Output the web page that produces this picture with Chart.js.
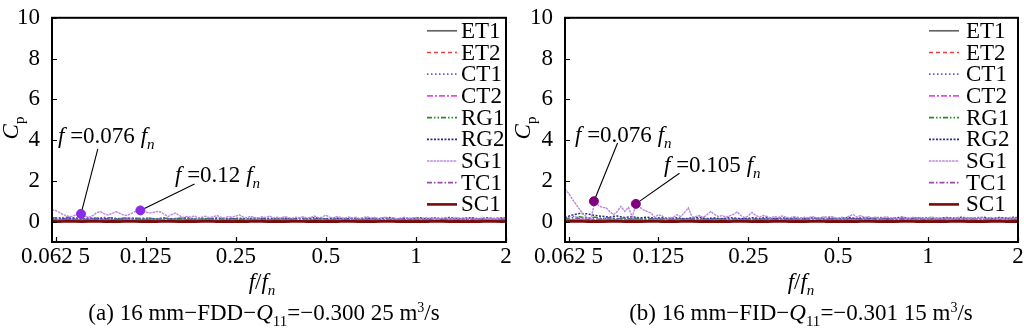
<!DOCTYPE html>
<html>
<head>
<meta charset="utf-8">
<script src="https://cdn.jsdelivr.net/npm/chart.js@4.4.0/dist/chart.umd.min.js"></script>
<style>
body { margin: 0; background: #fff; width: 1024px; height: 333px; overflow: hidden; position: relative; font-family: "Liberation Serif", serif; color: #000; }
.panel { position: absolute; top: 0; width: 512px; height: 333px; }
.panel canvas { position: absolute; left: 0; top: 0; }
.txt { position: absolute; font-size: 23px; line-height: 23px; white-space: nowrap; }
.ctr { transform: translateX(-50%); }
.ylab { position: absolute; font-size: 23px; line-height: 23px; white-space: nowrap; transform: translate(-50%, -50%) rotate(-90deg); }
.sb { font-size: 15px; position: relative; top: 6px; }
.sp { font-size: 14px; position: relative; top: -8px; }
</style>
</head>
<body>
<div class="panel" style="left:0">
  <canvas id="chartA" width="512" height="333"></canvas>
  <div class="ylab" style="left:12px; top:128px"><i>C</i><span class="sb">p</span></div>
  <div class="txt" style="left:58px; top:124px"><i>f</i> =0.076 <i>f</i><span class="sb"><i>n</i></span></div>
  <div class="txt" style="left:175px; top:163px"><i>f</i> =0.12 <i>f</i><span class="sb"><i>n</i></span></div>
  <div class="txt ctr" style="left:262px; top:270px"><i>f</i>/<i>f</i><span class="sb"><i>n</i></span></div>
  <div class="txt ctr" style="left:264px; top:301px">(a) 16 mm−FDD−<i>Q</i><span class="sb">11</span>=−0.300 25 m<span class="sp">3</span>/s</div>
</div>
<div class="panel" style="left:512px">
  <canvas id="chartB" width="512" height="333"></canvas>
  <div class="ylab" style="left:12px; top:128px"><i>C</i><span class="sb">p</span></div>
  <div class="txt" style="left:63px; top:123px"><i>f</i> =0.076 <i>f</i><span class="sb"><i>n</i></span></div>
  <div class="txt" style="left:152px; top:153px"><i>f</i> =0.105 <i>f</i><span class="sb"><i>n</i></span></div>
  <div class="txt ctr" style="left:289px; top:270px"><i>f</i>/<i>f</i><span class="sb"><i>n</i></span></div>
  <div class="txt ctr" style="left:289px; top:301px">(b) 16 mm−FID−<i>Q</i><span class="sb">11</span>=−0.301 15 m<span class="sp">3</span>/s</div>
</div>
<script>
// frequency grids (f/fn)
const fFine = [
  0.0607,0.0625,0.0643,0.0662,0.0681,0.0701,0.0722,0.0743,0.0765,0.0787,
  0.081,0.0834,0.0858,0.0884,0.0909,0.0936,0.0964,0.0992,0.1021,0.1051,
  0.1082,0.1113,0.1146,0.1179,0.1214,0.125,0.1286,0.1324,0.1363,0.1403,
  0.1444,0.1486,0.1529,0.1574,0.162,0.1668,0.1717,0.1767,0.1819,0.1872,
  0.1927,0.1983,0.2042,0.2101,0.2163,0.2226,0.2292,0.2359,0.2428,0.2499,
  0.2572,0.2648,0.2725,0.2805,0.2887,0.2972,0.3059,0.3148,0.3241,0.3336,
  0.3434,0.3534,0.3638,0.3744,0.3854,0.3967,0.4083,0.4203,0.4326,0.4453,
  0.4583,0.4718,0.4856,0.4998,0.5145,0.5295,0.545,0.561,0.5775,0.5944,
  0.6118,0.6297,0.6482,0.6671,0.6867,0.7069,0.7275,0.7489,0.7708,0.7934,
  0.8166,0.8406,0.8652,0.8906,0.9166,0.9435,0.9712,0.9997,1.029,1.059,
  1.09,1.122,1.155,1.189,1.224,1.259,1.296,1.334,1.373,1.414,
  1.455,1.498,1.542,1.587,1.633,1.681,1.731,1.781,1.833,1.887,
  1.942,2.0
];
const fCoarse = [
  0.0607,0.0643,0.0681,0.0722,0.0765,0.081,0.0858,0.0909,0.0964,0.1021,
  0.1082,0.1146,0.1214,0.1286,0.1363,0.1444,0.1529,0.162,0.1717,0.1819,
  0.1927,0.2042,0.2163,0.2292,0.2428,0.2572,0.2725,0.2887,0.3059,0.3241,
  0.3434,0.3638,0.3854,0.4083,0.4326,0.4583,0.4856,0.5145,0.545,0.5775,
  0.6118,0.6482,0.6867,0.7275,0.7708,0.8166,0.8652,0.9166,0.9712,1.029,
  1.09,1.155,1.224,1.296,1.373,1.455,1.542,1.633,1.731,1.833,
  1.942,2.0
];

const xTicks = [0.0625, 0.125, 0.25, 0.5, 1, 2];
const xTickLabels = ['0.062 5', '0.125', '0.25', '0.5', '1', '2'];
const yTicks = [0, 2, 4, 6, 8, 10];

// ---- panel (a) FDD ----
const et1A = [
  0.08,0.07,0.09,0.06,0.08,0.07,0.06,0.08,0.07,0.09,
  0.06,0.07,0.08,0.06,0.07,0.05,0.07,0.06,0.08,0.05,
  0.06,0.07,0.05,0.06,0.07,0.05,0.06,0.05,0.07,0.05,
  0.06,0.05,0.06,0.04,0.06,0.05,0.07,0.05,0.06,0.04,
  0.06,0.05,0.06,0.04,0.05,0.06,0.04,0.05,0.06,0.04,
  0.05,0.06,0.05,0.04,0.06,0.05,0.04,0.06,0.05,0.04,
  0.05,0.05
];
const et2A = [
  0.05,0.06,0.04,0.07,0.05,0.04,0.06,0.05,0.07,0.04,
  0.05,0.06,0.04,0.05,0.07,0.04,0.05,0.06,0.04,0.05,
  0.06,0.04,0.05,0.04,0.06,0.05,0.04,0.06,0.04,0.05,
  0.04,0.06,0.05,0.04,0.05,0.06,0.04,0.05,0.04,0.06,
  0.05,0.04,0.05,0.04,0.06,0.04,0.05,0.04,0.05,0.06,
  0.04,0.05,0.04,0.05,0.04,0.06,0.05,0.04,0.05,0.04,
  0.05,0.04
];
const ct1A = [
  0.16,0.14,0.18,0.15,0.12,0.17,0.14,0.19,0.13,0.16,
  0.18,0.13,0.15,0.17,0.12,0.16,0.14,0.18,0.12,0.15,
  0.13,0.17,0.12,0.14,0.16,0.11,0.15,0.13,0.17,0.12,
  0.14,0.16,0.11,0.15,0.13,0.12,0.16,0.11,0.14,0.13,
  0.15,0.11,0.14,0.12,0.16,0.11,0.13,0.15,0.12,0.14,
  0.11,0.15,0.13,0.12,0.14,0.11,0.15,0.12,0.13,0.14,
  0.12,0.13
];
const ct2A = [
  0.1,0.08,0.12,0.09,0.07,0.11,0.08,0.1,0.07,0.09,
  0.11,0.08,0.1,0.07,0.09,0.08,0.11,0.07,0.09,0.08,
  0.1,0.07,0.09,0.08,0.1,0.07,0.08,0.1,0.07,0.09,
  0.08,0.1,0.07,0.09,0.08,0.07,0.1,0.08,0.09,0.07,
  0.09,0.08,0.1,0.07,0.08,0.09,0.07,0.08,0.1,0.07,
  0.09,0.08,0.07,0.09,0.08,0.1,0.07,0.08,0.09,0.07,
  0.08,0.09
];
const rg1A = [
  0.2,0.18,0.22,0.19,0.16,0.2,0.17,0.21,0.18,0.16,
  0.19,0.15,0.18,0.16,0.14,0.17,0.13,0.16,0.14,0.12,
  0.15,0.13,0.11,0.14,0.12,0.15,0.11,0.13,0.12,0.1,
  0.13,0.11,0.14,0.1,0.12,0.11,0.13,0.1,0.12,0.11,
  0.1,0.12,0.11,0.13,0.1,0.11,0.12,0.1,0.11,0.13,
  0.1,0.12,0.11,0.1,0.12,0.11,0.1,0.12,0.11,0.1,
  0.11,0.12
];
const rg2A = [
  0.15,0.18,0.13,0.17,0.14,0.12,0.16,0.13,0.18,0.12,
  0.15,0.17,0.12,0.16,0.13,0.18,0.12,0.15,0.19,0.13,
  0.16,0.12,0.18,0.14,0.12,0.17,0.13,0.19,0.12,0.16,
  0.14,0.18,0.12,0.17,0.14,0.2,0.13,0.16,0.18,0.12,
  0.17,0.14,0.19,0.13,0.16,0.2,0.13,0.17,0.15,0.19,
  0.13,0.18,0.15,0.2,0.14,0.17,0.19,0.13,0.18,0.15,
  0.19,0.16
];
const sg1A = [
  0.58,0.55,0.45,0.35,0.28,0.24,0.3,0.4,0.36,0.25,
  0.22,0.3,0.45,0.48,0.38,0.32,0.4,0.48,0.42,0.33,
  0.3,0.38,0.48,0.55,0.56,0.48,0.42,0.45,0.5,0.47,
  0.35,0.25,0.35,0.42,0.3,0.2,0.25,0.22,0.28,0.18,
  0.22,0.26,0.2,0.24,0.3,0.22,0.18,0.25,0.21,0.27,
  0.33,0.22,0.19,0.26,0.2,0.17,0.24,0.2,0.28,0.18,
  0.22,0.17,0.25,0.2,0.16,0.22,0.19,0.24,0.17,0.21,
  0.27,0.19,0.22,0.32,0.22,0.18,0.25,0.2,0.16,0.23,
  0.18,0.21,0.15,0.2,0.24,0.17,0.2,0.15,0.19,0.22,
  0.16,0.19,0.14,0.18,0.21,0.15,0.18,0.2,0.14,0.17,
  0.2,0.15,0.18,0.13,0.17,0.2,0.14,0.16,0.19,0.13,
  0.17,0.15,0.18,0.13,0.16,0.19,0.14,0.17,0.13,0.16,
  0.18,0.15
];
const tc1A = [
  0.12,0.1,0.14,0.11,0.09,0.13,0.1,0.15,0.11,0.13,
  0.1,0.14,0.11,0.09,0.13,0.1,0.15,0.11,0.13,0.09,
  0.12,0.14,0.1,0.12,0.15,0.1,0.13,0.11,0.16,0.1,
  0.13,0.11,0.15,0.1,0.14,0.12,0.16,0.1,0.13,0.15,
  0.11,0.14,0.12,0.17,0.11,0.14,0.12,0.16,0.1,0.15,
  0.13,0.17,0.11,0.14,0.16,0.12,0.15,0.11,0.17,0.13,
  0.15,0.14
];
const sc1A = [
  0.01,0.0,0.02,0.01,0.0,0.01,0.02,0.0,0.01,0.0,
  0.02,0.01,0.0,0.01,0.0,0.02,0.01,0.0,0.01,0.0,
  0.01,0.02,0.0,0.01,0.0,0.01,0.0,0.02,0.01,0.0,
  0.01,0.0,0.01,0.02,0.0,0.01,0.0,0.01,0.0,0.02,
  0.01,0.0,0.01,0.0,0.01,0.02,0.0,0.01,0.0,0.01,
  0.0,0.02,0.01,0.0,0.01,0.0,0.01,0.0,0.02,0.01,
  0.0,0.01
];
const markFA = [0.076, 0.12];
const markCpA = [0.38, 0.55];
const leadFA = [0.0865, 0.182];
const leadCpA = [3.57, 1.84];

// ---- panel (b) FID ----
const et1B = [
  0.07,0.08,0.06,0.09,0.07,0.06,0.08,0.07,0.06,0.08,
  0.07,0.05,0.07,0.06,0.08,0.05,0.07,0.06,0.05,0.07,
  0.06,0.05,0.07,0.06,0.05,0.06,0.07,0.05,0.06,0.05,
  0.07,0.05,0.06,0.04,0.06,0.05,0.06,0.05,0.04,0.06,
  0.05,0.06,0.04,0.05,0.06,0.05,0.04,0.06,0.05,0.04,
  0.06,0.05,0.04,0.05,0.06,0.04,0.05,0.06,0.04,0.05,
  0.05,0.04
];
const et2B = [
  0.06,0.04,0.07,0.05,0.04,0.06,0.05,0.07,0.04,0.06,
  0.05,0.04,0.06,0.05,0.04,0.07,0.05,0.04,0.06,0.05,
  0.04,0.06,0.05,0.04,0.05,0.06,0.04,0.05,0.06,0.04,
  0.05,0.04,0.06,0.05,0.04,0.05,0.06,0.04,0.05,0.04,
  0.06,0.05,0.04,0.05,0.04,0.06,0.05,0.04,0.05,0.04,
  0.05,0.04,0.06,0.04,0.05,0.04,0.05,0.06,0.04,0.05,
  0.04,0.05
];
const ct1B = [
  0.22,0.26,0.2,0.17,0.21,0.15,0.18,0.14,0.17,0.13,
  0.16,0.12,0.15,0.13,0.17,0.12,0.14,0.16,0.11,0.15,
  0.13,0.12,0.16,0.11,0.14,0.13,0.12,0.15,0.11,0.14,
  0.12,0.16,0.11,0.13,0.15,0.11,0.14,0.12,0.16,0.11,
  0.13,0.15,0.12,0.14,0.11,0.16,0.12,0.13,0.15,0.11,
  0.14,0.12,0.16,0.11,0.13,0.15,0.12,0.14,0.11,0.15,
  0.13,0.12
];
const ct2B = [
  0.09,0.11,0.08,0.1,0.07,0.09,0.11,0.08,0.1,0.07,
  0.09,0.08,0.1,0.07,0.09,0.11,0.08,0.09,0.07,0.1,
  0.08,0.09,0.07,0.1,0.08,0.07,0.09,0.08,0.1,0.07,
  0.09,0.08,0.07,0.1,0.08,0.09,0.07,0.08,0.1,0.07,
  0.09,0.08,0.07,0.09,0.1,0.07,0.08,0.09,0.07,0.08,
  0.1,0.07,0.09,0.08,0.07,0.09,0.08,0.1,0.07,0.08,
  0.09,0.08
];
const rg1B = [
  0.14,0.2,0.24,0.18,0.22,0.16,0.2,0.14,0.18,0.15,
  0.17,0.13,0.16,0.14,0.12,0.15,0.13,0.11,0.14,0.12,
  0.15,0.11,0.13,0.12,0.1,0.13,0.11,0.14,0.1,0.12,
  0.11,0.13,0.1,0.12,0.11,0.1,0.13,0.11,0.12,0.1,
  0.11,0.13,0.1,0.12,0.11,0.1,0.12,0.11,0.1,0.12,
  0.11,0.1,0.12,0.11,0.13,0.1,0.11,0.12,0.1,0.11,
  0.12,0.11
];
const rg2B = [
  0.2,0.32,0.4,0.38,0.3,0.26,0.22,0.28,0.2,0.24,
  0.18,0.22,0.16,0.2,0.15,0.19,0.14,0.18,0.21,0.15,
  0.18,0.14,0.2,0.16,0.13,0.19,0.15,0.21,0.14,0.18,
  0.16,0.2,0.14,0.19,0.16,0.22,0.14,0.18,0.2,0.15,
  0.19,0.16,0.21,0.14,0.18,0.22,0.15,0.19,0.17,0.21,
  0.15,0.2,0.17,0.22,0.16,0.19,0.21,0.15,0.2,0.17,
  0.21,0.18
];
const sg1B = [
  1.6,1.4,1.1,0.85,0.6,0.35,0.2,0.12,1.0,0.8,
  0.7,0.68,0.5,0.34,0.5,0.75,0.5,0.7,0.22,0.87,
  0.7,0.58,0.5,0.43,0.22,0.34,0.28,0.1,0.18,0.22,
  0.34,0.25,0.45,0.68,0.22,0.25,0.3,0.2,0.35,0.5,
  0.35,0.25,0.3,0.22,0.28,0.35,0.48,0.3,0.2,0.28,
  0.45,0.3,0.22,0.3,0.25,0.18,0.26,0.2,0.28,0.22,
  0.17,0.25,0.2,0.15,0.22,0.18,0.25,0.2,0.16,0.23,
  0.19,0.26,0.2,0.16,0.22,0.18,0.28,0.35,0.22,0.3,
  0.2,0.25,0.18,0.22,0.16,0.2,0.24,0.17,0.2,0.15,
  0.22,0.18,0.16,0.21,0.17,0.2,0.15,0.19,0.22,0.16,
  0.18,0.14,0.2,0.17,0.15,0.2,0.16,0.18,0.14,0.19,
  0.16,0.2,0.15,0.17,0.2,0.15,0.18,0.14,0.17,0.2,
  0.16,0.18
];
const tc1B = [
  0.14,0.12,0.16,0.11,0.14,0.1,0.13,0.15,0.11,0.14,
  0.1,0.13,0.15,0.11,0.13,0.1,0.14,0.12,0.15,0.1,
  0.13,0.15,0.11,0.13,0.16,0.11,0.14,0.12,0.16,0.11,
  0.14,0.12,0.16,0.11,0.15,0.13,0.17,0.11,0.14,0.16,
  0.12,0.15,0.13,0.17,0.12,0.15,0.13,0.16,0.11,0.15,
  0.14,0.17,0.12,0.15,0.16,0.13,0.15,0.12,0.17,0.14,
  0.16,0.15
];
const sc1B = [
  0.0,0.01,0.02,0.0,0.01,0.0,0.01,0.02,0.0,0.01,
  0.0,0.01,0.02,0.0,0.01,0.0,0.02,0.01,0.0,0.01,
  0.0,0.01,0.0,0.02,0.01,0.0,0.01,0.0,0.01,0.02,
  0.0,0.01,0.0,0.01,0.02,0.0,0.01,0.0,0.01,0.0,
  0.02,0.01,0.0,0.01,0.0,0.01,0.02,0.0,0.01,0.0,
  0.01,0.0,0.02,0.01,0.0,0.01,0.0,0.01,0.02,0.0,
  0.01,0.0
];
const markFB = [0.076, 0.105];
const markCpB = [1.0, 0.87];
const leadFB = [0.0912, 0.147];
const leadCpB = [3.86, 2.37];

// line look of each probe
const styles = {
  ET1: { color: '#666666', width: 1.5, dash: [] },
  ET2: { color: '#e8413c', width: 1.3, dash: [4, 3] },
  CT1: { color: '#5a5ad8', width: 1.3, dash: [1.5, 2.5] },
  CT2: { color: '#e64ce6', width: 1.5, dash: [6, 2, 2, 2] },
  RG1: { color: '#2c8a2c', width: 1.3, dash: [5, 2, 1.5, 2, 1.5, 2] },
  RG2: { color: '#2a2a8c', width: 1.5, dash: [2, 1.5] },
  SG1: { color: '#bb88e2', width: 1.4, dash: [2.5, 0.8] },
  TC1: { color: '#9a4aa6', width: 1.5, dash: [5, 2, 1.5, 2] },
  SC1: { color: '#7a0a0a', width: 2.6, dash: [] }
};
const drawOrder = { SG1: 2, SC1: 3 };

function lineSet(name, freq, vals) {
  const s = styles[name];
  return {
    label: name,
    data: freq.map((f, i) => ({ x: f, y: vals[i] })),
    borderColor: s.color,
    borderWidth: s.width,
    borderDash: s.dash,
    pointRadius: 0,
    fill: false,
    tension: 0,
    order: drawOrder[name] || 5
  };
}

const framePlugin = {
  id: 'frame',
  beforeDatasetsDraw(chart, args, opts) {
    const { ctx, scales: { x, y } } = chart;
    ctx.save();
    ctx.strokeStyle = '#000';
    ctx.lineWidth = 1.1;
    opts.leadF.forEach((f, i) => {
      ctx.beginPath();
      ctx.moveTo(x.getPixelForValue(opts.markF[i]), y.getPixelForValue(opts.markCp[i]));
      ctx.lineTo(x.getPixelForValue(f), y.getPixelForValue(opts.leadCp[i]));
      ctx.stroke();
    });
    ctx.restore();
  },
  afterDraw(chart, args, opts) {
    const { ctx, chartArea: a, scales: { x, y } } = chart;
    ctx.save();
    ctx.strokeStyle = '#000';
    ctx.lineWidth = 2;
    ctx.strokeRect(a.left, a.top, a.right - a.left, a.bottom - a.top);
    // inward ticks
    ctx.lineWidth = 1.2;
    ctx.beginPath();
    x.ticks.forEach(t => {
      const px = Math.round(x.getPixelForValue(t.value)) + 0.5;
      ctx.moveTo(px, a.bottom);
      ctx.lineTo(px, a.bottom - 5);
    });
    y.ticks.forEach(t => {
      const py = Math.round(y.getPixelForValue(t.value)) + 0.5;
      ctx.moveTo(a.left, py);
      ctx.lineTo(a.left + 5, py);
    });
    ctx.stroke();
    // legend inside the plot
    ctx.font = '23px "Liberation Serif"';
    ctx.textBaseline = 'middle';
    ctx.fillStyle = '#000';
    let row = 0;
    chart.data.datasets.forEach(d => {
      if (!d.label) return;
      const yy = a.top + 13 + row * 21.7;
      ctx.save();
      ctx.strokeStyle = d.borderColor;
      ctx.lineWidth = Math.max(d.borderWidth, 1.7);
      ctx.setLineDash(d.borderDash || []);
      ctx.beginPath();
      ctx.moveTo(a.right - opts.lineFrom, yy);
      ctx.lineTo(a.right - opts.lineTo, yy);
      ctx.stroke();
      ctx.restore();
      ctx.fillText(d.label, a.right - opts.textAt, yy + 1);
      row++;
    });
    ctx.restore();
  }
};

Chart.defaults.font.family = '"Liberation Serif", serif';
Chart.defaults.color = '#000';

function makeChart(id, sets, markF, markCp, markColor, leadF, leadCp, leftW, legendPos) {
  const datasets = [
    lineSet('ET1', fCoarse, sets[0]),
    lineSet('ET2', fCoarse, sets[1]),
    lineSet('CT1', fCoarse, sets[2]),
    lineSet('CT2', fCoarse, sets[3]),
    lineSet('RG1', fCoarse, sets[4]),
    lineSet('RG2', fCoarse, sets[5]),
    lineSet('SG1', fFine, sets[6]),
    lineSet('TC1', fCoarse, sets[7]),
    lineSet('SC1', fCoarse, sets[8]),
    {
      label: '',
      data: markF.map((f, i) => ({ x: f, y: markCp[i] })),
      showLine: false,
      pointRadius: 4.5,
      pointBackgroundColor: markColor,
      pointBorderColor: markColor,
      order: 0
    }
  ];
  return new Chart(document.getElementById(id), {
    type: 'line',
    data: { datasets },
    plugins: [framePlugin],
    options: {
      responsive: false,
      animation: false,
      devicePixelRatio: 1,
      layout: { padding: { left: 0, right: 6, top: 16, bottom: 0 } },
      plugins: {
        legend: { display: false },
        tooltip: { enabled: false },
        frame: { markF, markCp, leadF, leadCp, ...legendPos }
      },
      scales: {
        x: {
          type: 'logarithmic',
          min: 0.0608,
          max: 2,
          grid: { display: false },
          border: { display: false },
          afterBuildTicks: s => { s.ticks = xTicks.map(v => ({ value: v })); },
          afterFit: s => { s.height = 91; },
          ticks: {
            autoSkip: false,
            maxRotation: 0,
            minRotation: 0,
            padding: -7,
            font: { size: 23 },
            callback: (v, i) => xTickLabels[i]
          }
        },
        y: {
          type: 'linear',
          min: -1,
          max: 10,
          grid: { display: false },
          border: { display: false },
          afterBuildTicks: s => { s.ticks = yTicks.map(v => ({ value: v })); },
          afterFit: s => { s.width = leftW; },
          ticks: { padding: 4, font: { size: 23 } }
        }
      }
    }
  });
}

makeChart('chartA', [et1A, et2A, ct1A, ct2A, rg1A, rg2A, sg1A, tc1A, sc1A],
  markFA, markCpA, '#8a2be8', leadFA, leadCpA, 52,
  { lineFrom: 79, lineTo: 49, textAt: 45 });
makeChart('chartB', [et1B, et2B, ct1B, ct2B, rg1B, rg2B, sg1B, tc1B, sc1B],
  markFB, markCpB, '#800080', leadFB, leadCpB, 53,
  { lineFrom: 89, lineTo: 59, textAt: 52 });
</script>
</body>
</html>
